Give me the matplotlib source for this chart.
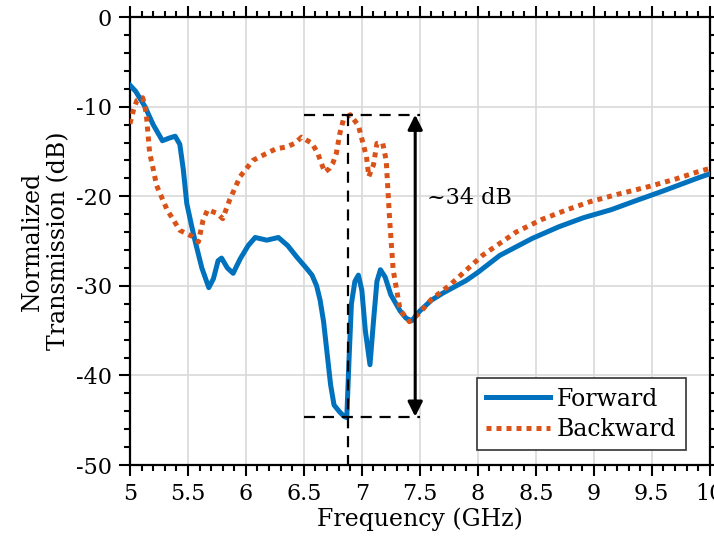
from matplotlib import pyplot as plt
from matplotlib.ticker import MultipleLocator

# forward transmission (GHz, dB)
fwd_freq = [5.00, 5.05, 5.13, 5.20, 5.28, 5.34, 5.39, 5.43, 5.46, 5.49, 5.53, 5.56,
            5.62, 5.68, 5.72, 5.76, 5.79, 5.84, 5.89, 5.95, 6.02, 6.08, 6.18, 6.28,
            6.36, 6.44, 6.52, 6.57, 6.61, 6.64, 6.67, 6.70, 6.73, 6.76, 6.81, 6.85,
            6.87, 6.89, 6.91, 6.94, 6.97, 7.00, 7.03, 7.07, 7.10, 7.13, 7.16, 7.20,
            7.25, 7.33, 7.38, 7.43, 7.50, 7.60, 7.70, 7.90, 8.00, 8.19, 8.47, 8.70,
            8.91, 9.15, 9.34, 9.60, 9.91, 10.00]
fwd_db = [-7.6, -8.3, -10.0, -12.0, -13.8, -13.5, -13.3, -14.2, -17.0, -20.8, -23.2, -24.9,
          -28.0, -30.2, -29.2, -27.2, -26.9, -28.0, -28.6, -27.0, -25.5, -24.6, -24.9, -24.6,
          -25.5, -26.8, -28.0, -28.8, -30.0, -31.6, -34.0, -37.5, -41.0, -43.3, -44.1, -44.6,
          -44.7, -38.0, -32.0, -29.5, -28.8, -30.5, -35.0, -38.8, -34.0, -29.5, -28.2, -29.0,
          -31.0, -32.8, -33.6, -33.9, -32.8, -31.6, -30.8, -29.4, -28.5, -26.6, -24.7, -23.4,
          -22.4, -21.5, -20.6, -19.4, -17.9, -17.5]

# backward transmission (GHz, dB)
bwd_freq = [5.00, 5.03, 5.06, 5.11, 5.14, 5.17, 5.19, 5.23, 5.32, 5.43, 5.54, 5.59,
            5.63, 5.67, 5.75, 5.80, 5.86, 5.95, 6.06, 6.15, 6.26, 6.35, 6.42, 6.48,
            6.57, 6.62, 6.65, 6.68, 6.72, 6.75, 6.78, 6.81, 6.84, 6.90, 6.97, 7.01,
            7.04, 7.06, 7.10, 7.13, 7.18, 7.21, 7.24, 7.27, 7.33, 7.41, 7.50, 7.60,
            7.76, 8.04, 8.33, 8.55, 8.77, 8.97, 9.20, 9.48, 9.70, 9.89, 10.00]
bwd_db = [-11.9, -10.4, -9.3, -9.0, -10.7, -15.2, -16.3, -18.8, -21.5, -23.8, -24.5, -25.1,
          -22.7, -21.5, -21.9, -22.5, -20.4, -17.8, -16.0, -15.4, -14.7, -14.5, -14.1, -13.4,
          -14.1, -15.2, -16.3, -17.3, -16.9, -16.3, -15.2, -13.0, -11.5, -10.9, -12.1, -14.1,
          -15.6, -17.8, -16.5, -14.1, -14.1, -16.0, -22.7, -28.2, -32.7, -34.0, -33.0, -31.5,
          -29.9, -26.6, -24.0, -22.6, -21.5, -20.6, -19.8, -18.9, -18.1, -17.3, -16.9]

# isolation markers
iso_top = -10.9
iso_bottom = -44.6
iso_x0, iso_x1 = 6.5, 7.5
iso_freq = 6.88
arrow_freq = 7.46

plt.rcParams['font.family'] = ['DejaVu Serif']
plt.rcParams['axes.unicode_minus'] = False

fig = plt.figure(figsize=(7.14, 5.51), dpi=100)
ax = fig.add_axes([0.182, 0.156, 0.812, 0.813])

ax.plot(fwd_freq, fwd_db, color='#0072BD', linewidth=3.6, label='Forward', zorder=3)
ax.plot(bwd_freq, bwd_db, color='#D95319', linewidth=3.6, linestyle=(0, (1.0, 1.0)),
        dash_capstyle='butt', label='Backward', zorder=3)

# dashed guide lines and the isolation arrow
dash = (0, (5, 3.5))
ax.plot([iso_x0, iso_x1], [iso_top, iso_top], color='k', lw=1.6, linestyle=dash, zorder=4)
ax.plot([iso_x0, iso_x1], [iso_bottom, iso_bottom], color='k', lw=1.6, linestyle=dash, zorder=4)
ax.plot([iso_freq, iso_freq], [iso_top, -50], color='k', lw=1.6, linestyle=dash, zorder=4)
ax.annotate('', xy=(arrow_freq, iso_top), xytext=(arrow_freq, iso_bottom),
            arrowprops=dict(arrowstyle='<|-|>', color='k', lw=2.2,
                            mutation_scale=22, shrinkA=0, shrinkB=0), zorder=5)
ax.text(7.56, -20.2, '~34 dB', fontsize=16, va='center', ha='left')

ax.set_xlim(5, 10)
ax.set_ylim(-50, 0)
ax.xaxis.set_major_locator(MultipleLocator(0.5))
ax.xaxis.set_minor_locator(MultipleLocator(0.1))
ax.yaxis.set_major_locator(MultipleLocator(10))
ax.yaxis.set_minor_locator(MultipleLocator(2))
ax.xaxis.set_major_formatter(plt.FuncFormatter(lambda v, p: '%g' % v))

ax.tick_params(which='both', direction='out', top=True, right=True, width=1.5,
               labelsize=16)
ax.tick_params(which='major', length=8, pad=5)
ax.tick_params(which='minor', length=4.5)
for s in ax.spines.values():
    s.set_linewidth(1.6)
ax.grid(True, which='major', color='#d9d9d9', linewidth=1.2)
ax.set_axisbelow(True)

ax.set_xlabel('Frequency (GHz)', fontsize=17, labelpad=2)
ax.set_ylabel('Normalized\nTransmission (dB)', fontsize=17, labelpad=4)

leg = ax.legend(loc='lower right', fontsize=17, frameon=True, fancybox=False,
                edgecolor='#333333', framealpha=1, handlelength=2.7,
                handletextpad=0.3, borderpad=0.4, labelspacing=0.3,
                borderaxespad=0, bbox_to_anchor=(0.959, 0.033))
leg.get_frame().set_linewidth(1.2)

fig.savefig('out.png', dpi=100)
